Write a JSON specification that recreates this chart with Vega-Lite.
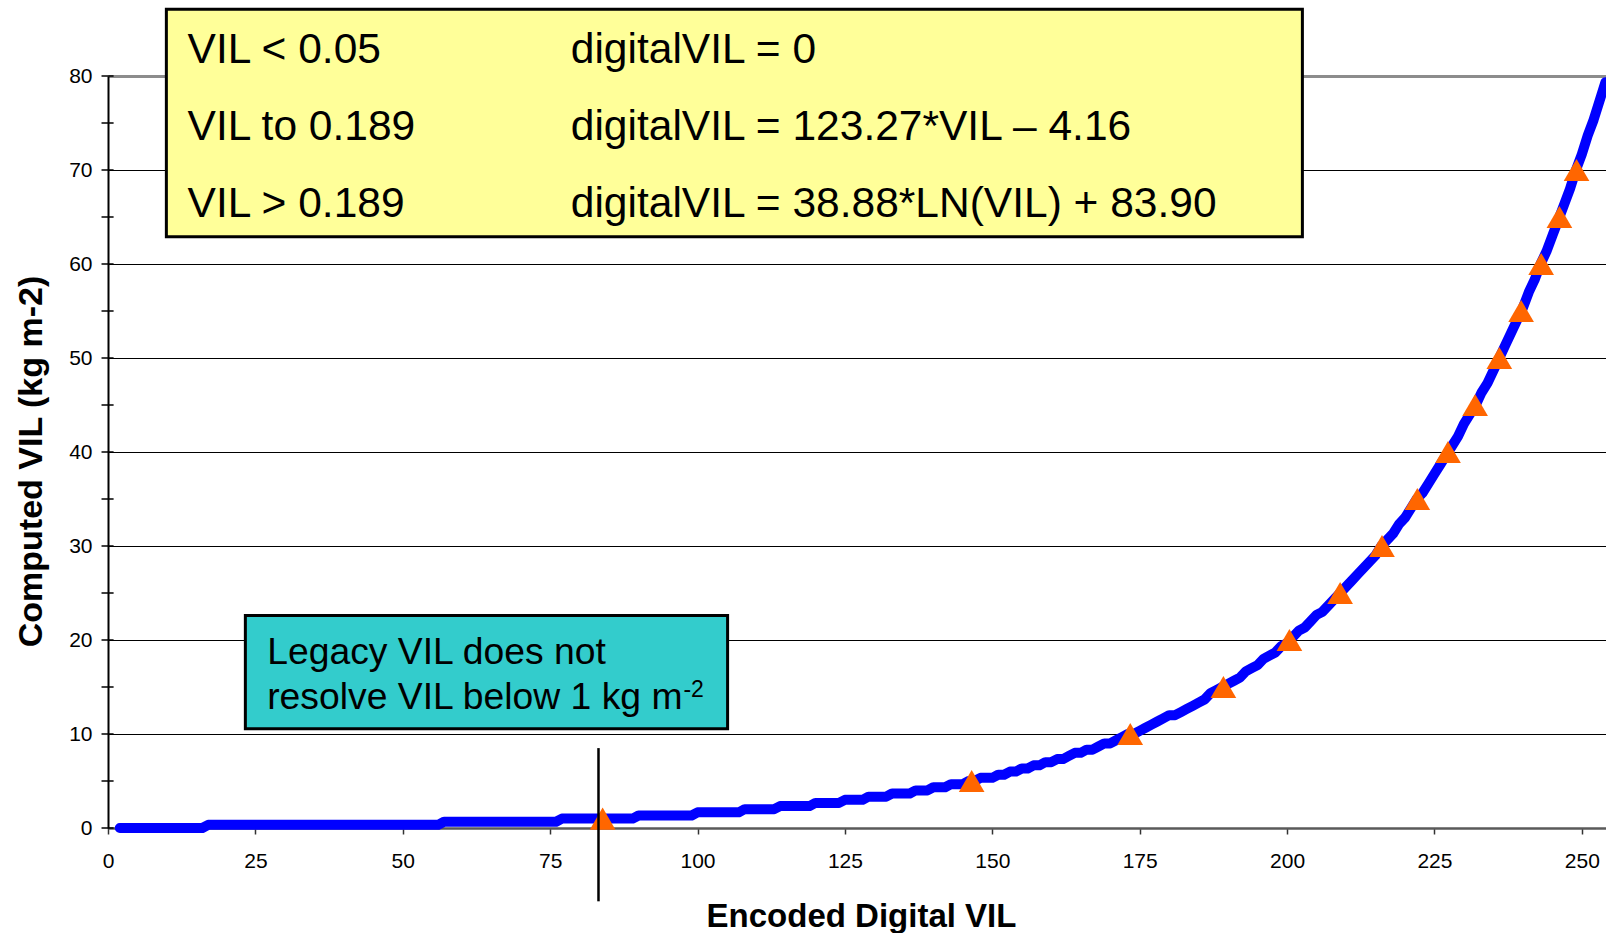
{
  "$schema": "https://vega.github.io/schema/vega-lite/v6.json",
  "width": 1498,
  "height": 752,
  "autosize": {"type": "none"},
  "padding": {"left": 108, "top": 76, "right": 0, "bottom": 105},
  "background": "white",
  "config": {
    "view": {"stroke": null},
    "font": "Liberation Sans",
    "axis": {"labelFont": "Liberation Sans", "titleFont": "Liberation Sans", "labelColor": "#000000", "titleColor": "#000000"}
  },
  "datasets": {
    "curve": [
      {"d":2,"v":0},{"d":16,"v":0},{"d":17,"v":0.333},{"d":56,"v":0.333},{"d":57,"v":0.667},{"d":76,"v":0.667},
      {"d":77,"v":1},{"d":89,"v":1},{"d":90,"v":1.333},{"d":99,"v":1.333},{"d":100,"v":1.667},{"d":107,"v":1.667},
      {"d":108,"v":2},{"d":113,"v":2},{"d":114,"v":2.333},{"d":119,"v":2.333},{"d":120,"v":2.667},{"d":124,"v":2.667},
      {"d":125,"v":3},{"d":128,"v":3},{"d":129,"v":3.333},{"d":132,"v":3.333},{"d":133,"v":3.667},{"d":136,"v":3.667},
      {"d":137,"v":4},{"d":139,"v":4},{"d":140,"v":4.333},{"d":142,"v":4.333},{"d":143,"v":4.667},{"d":145,"v":4.667},
      {"d":146,"v":5},{"d":147,"v":5},{"d":148,"v":5.333},{"d":150,"v":5.333},{"d":151,"v":5.667},{"d":152,"v":5.667},
      {"d":153,"v":6},{"d":154,"v":6},{"d":155,"v":6.333},{"d":156,"v":6.333},{"d":157,"v":6.667},{"d":158,"v":6.667},
      {"d":159,"v":7},{"d":160,"v":7},{"d":161,"v":7.333},{"d":162,"v":7.333},{"d":163,"v":7.667},{"d":164,"v":8},
      {"d":165,"v":8},{"d":166,"v":8.333},{"d":167,"v":8.333},{"d":168,"v":8.667},{"d":169,"v":9},{"d":170,"v":9},
      {"d":171,"v":9.333},{"d":172,"v":9.667},{"d":173,"v":10},{"d":174,"v":10},{"d":175,"v":10.333},{"d":176,"v":10.667},
      {"d":177,"v":11},{"d":178,"v":11.333},{"d":179,"v":11.667},{"d":180,"v":12},{"d":181,"v":12},{"d":182,"v":12.333},
      {"d":183,"v":12.667},{"d":184,"v":13},{"d":185,"v":13.333},{"d":186,"v":13.667},{"d":187,"v":14.333},{"d":188,"v":14.667},
      {"d":189,"v":15},{"d":190,"v":15.333},{"d":191,"v":15.667},{"d":192,"v":16},{"d":193,"v":16.667},{"d":194,"v":17},
      {"d":195,"v":17.333},{"d":196,"v":18},{"d":197,"v":18.333},{"d":198,"v":18.667},{"d":199,"v":19.333},{"d":200,"v":19.667},
      {"d":201,"v":20.333},{"d":202,"v":21},{"d":203,"v":21.333},{"d":204,"v":22},{"d":205,"v":22.667},{"d":206,"v":23},
      {"d":207,"v":23.667},{"d":208,"v":24.333},{"d":209,"v":25},{"d":210,"v":25.667},{"d":211,"v":26.333},{"d":212,"v":27},
      {"d":213,"v":27.667},{"d":214,"v":28.333},{"d":215,"v":29},{"d":216,"v":30},{"d":217,"v":30.667},{"d":218,"v":31.333},
      {"d":219,"v":32.333},{"d":220,"v":33},{"d":221,"v":34},{"d":222,"v":35},{"d":223,"v":35.667},{"d":224,"v":36.667},
      {"d":225,"v":37.667},{"d":226,"v":38.667},{"d":227,"v":39.667},{"d":228,"v":40.667},{"d":229,"v":41.667},{"d":230,"v":43},
      {"d":231,"v":44},{"d":232,"v":45},{"d":233,"v":46.333},{"d":234,"v":47.333},{"d":235,"v":48.667},{"d":236,"v":50},
      {"d":237,"v":51.333},{"d":238,"v":52.667},{"d":239,"v":54},{"d":240,"v":55.333},{"d":241,"v":57},{"d":242,"v":58.333},
      {"d":243,"v":60},{"d":244,"v":61.333},{"d":245,"v":63},{"d":246,"v":64.667},{"d":247,"v":66.333},{"d":248,"v":68},
      {"d":249,"v":70},{"d":250,"v":71.667},{"d":251,"v":73.667},{"d":252,"v":75.333},{"d":253,"v":77.333},{"d":254,"v":79.333}
    ],
    "markers": [
      {"d":83.9,"v":1},{"d":146.5,"v":5},{"d":173.4,"v":10},{"d":189.2,"v":15},{"d":200.4,"v":20},
      {"d":209,"v":25},{"d":216.1,"v":30},{"d":222.1,"v":35},{"d":227.3,"v":40},{"d":231.9,"v":45},
      {"d":236,"v":50},{"d":239.7,"v":55},{"d":243.1,"v":60},{"d":246.2,"v":65},{"d":249.1,"v":70}
    ],
    "yticks": [
      {"v":0},{"v":5},{"v":10},{"v":15},{"v":20},{"v":25},{"v":30},{"v":35},{"v":40},
      {"v":45},{"v":50},{"v":55},{"v":60},{"v":65},{"v":70},{"v":75},{"v":80}
    ],
    "one": [{}]
  },
  "layer": [
    {
      "data": {"name": "curve"},
      "mark": {"type": "line", "color": "#0000FF", "strokeWidth": 10, "strokeCap": "round", "strokeJoin": "round"},
      "encoding": {
        "x": {
          "field": "d", "type": "quantitative",
          "scale": {"domain": [0, 254.1], "nice": false, "zero": false},
          "axis": {
            "title": "Encoded Digital VIL",
            "values": [0, 25, 50, 75, 100, 125, 150, 175, 200, 225, 250],
            "grid": false,
            "labelFlush": false,
            "domainColor": "#5a5a5a", "domainWidth": 2.5,
            "tickColor": "#333333", "tickSize": 6, "tickWidth": 1.5,
            "labelFontSize": 21, "labelPadding": 27, "labelBaseline": "middle",
            "titleFontSize": 33, "titleFontWeight": "bold", "titlePadding": 29, "titleX": 753
          }
        },
        "y": {
          "field": "v", "type": "quantitative",
          "scale": {"domain": [0, 80], "nice": false, "zero": false},
          "axis": {
            "title": "Computed VIL (kg m-2)",
            "values": [0, 10, 20, 30, 40, 50, 60, 70, 80],
            "grid": true,
            "labelFlush": false,
            "gridColor": {"condition": {"test": "datum.value === 80", "value": "#8c8c8c"}, "value": "#000000"},
            "gridWidth": {"condition": {"test": "datum.value === 80", "value": 3}, "value": 1},
            "domainColor": "#000000", "domainWidth": 2,
            "ticks": false, "tickSize": 0,
            "labelFontSize": 21, "labelPadding": 16,
            "titleFontSize": 34, "titleFontWeight": "bold", "titlePadding": 20, "titleY": 385
          }
        }
      }
    },
    {
      "data": {"name": "yticks"},
      "mark": {"type": "rule", "color": "#000000", "strokeWidth": 1.5},
      "encoding": {
        "x": {"datum": -1.1, "type": "quantitative"},
        "x2": {"datum": 0.95},
        "y": {"field": "v", "type": "quantitative", "title": "Computed VIL (kg m-2)"}
      }
    },
    {
      "data": {"name": "markers"},
      "mark": {"type": "point", "shape": "triangle-up", "filled": true, "color": "#FF6600", "size": 660, "opacity": 1},
      "encoding": {
        "x": {"field": "d", "type": "quantitative", "title": "Encoded Digital VIL"},
        "y": {"field": "v", "type": "quantitative", "title": "Computed VIL (kg m-2)"}
      }
    },
    {
      "data": {"name": "one"},
      "mark": {"type": "rule", "color": "#000000", "strokeWidth": 2.5},
      "encoding": {
        "x": {"datum": 83.2, "type": "quantitative"},
        "y": {"datum": 8.5, "type": "quantitative"},
        "y2": {"datum": -7.8}
      }
    },
    {
      "data": {"name": "one"},
      "mark": {"type": "rect", "fill": "#FFFF99", "stroke": "#000000", "strokeWidth": 3},
      "encoding": {
        "x": {"datum": 9.9, "type": "quantitative"},
        "x2": {"datum": 202.6},
        "y": {"datum": 87.1, "type": "quantitative"},
        "y2": {"datum": 62.9}
      }
    },
    {
      "data": {"name": "one"},
      "mark": {"type": "text", "align": "left", "baseline": "alphabetic", "fontSize": 42.5, "lineHeight": 77, "color": "#000000", "font": "Liberation Sans"},
      "encoding": {
        "x": {"datum": 13.5, "type": "quantitative"},
        "y": {"datum": 81.4, "type": "quantitative"},
        "text": {"value": ["VIL < 0.05", "VIL to 0.189", "VIL > 0.189"]}
      }
    },
    {
      "data": {"name": "one"},
      "mark": {"type": "text", "align": "left", "baseline": "alphabetic", "fontSize": 42.5, "lineHeight": 77, "color": "#000000", "font": "Liberation Sans"},
      "encoding": {
        "x": {"datum": 78.5, "type": "quantitative"},
        "y": {"datum": 81.4, "type": "quantitative"},
        "text": {"value": ["digitalVIL = 0", "digitalVIL = 123.27*VIL – 4.16", "digitalVIL = 38.88*LN(VIL) + 83.90"]}
      }
    },
    {
      "data": {"name": "one"},
      "mark": {"type": "rect", "fill": "#33CCCC", "stroke": "#000000", "strokeWidth": 3},
      "encoding": {
        "x": {"datum": 23.3, "type": "quantitative"},
        "x2": {"datum": 105.1},
        "y": {"datum": 22.6, "type": "quantitative"},
        "y2": {"datum": 10.56}
      }
    },
    {
      "data": {"name": "one"},
      "mark": {"type": "text", "align": "left", "baseline": "alphabetic", "fontSize": 37.3, "lineHeight": 45, "color": "#000000", "font": "Liberation Sans"},
      "encoding": {
        "x": {"datum": 27.0, "type": "quantitative"},
        "y": {"datum": 17.5, "type": "quantitative"},
        "text": {"value": ["Legacy VIL does not", "resolve VIL below 1 kg m"]}
      }
    },
    {
      "data": {"name": "one"},
      "mark": {"type": "text", "align": "left", "baseline": "alphabetic", "fontSize": 23, "color": "#000000", "font": "Liberation Sans"},
      "encoding": {
        "x": {"datum": 97.6, "type": "quantitative"},
        "y": {"datum": 13.9, "type": "quantitative"},
        "text": {"value": "-2"}
      }
    }
  ]
}
